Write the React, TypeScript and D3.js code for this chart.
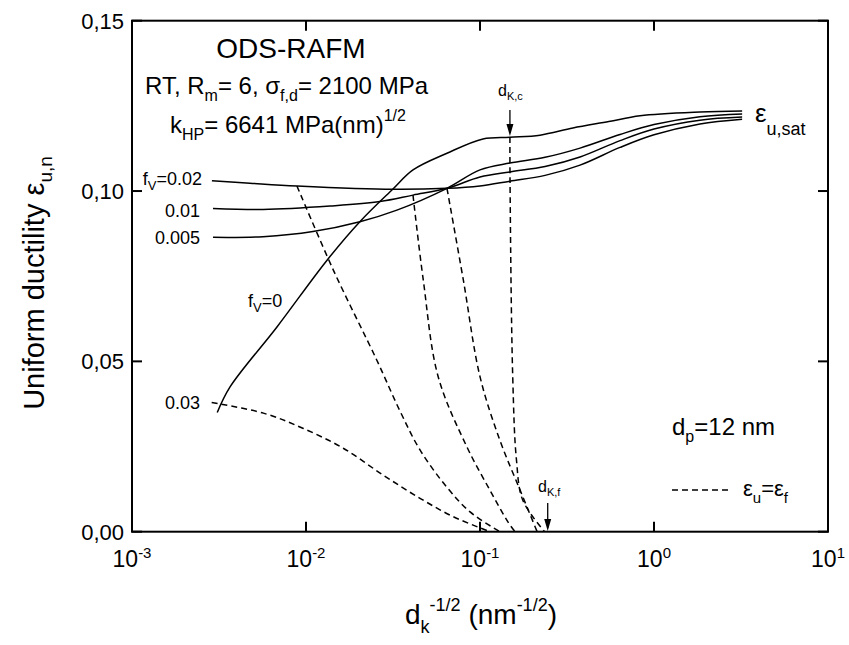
import React from "react";
import * as d3 from "d3";

const W = 849;
const H = 645;
const FONT = "Liberation Sans, Arial, Helvetica, sans-serif";

// axis ticks
const xTicks = [0.001, 0.01, 0.1, 1, 10];
const xTickExp = ["-3", "-2", "-1", "0", "1"];
const yTicks = [0, 0.05, 0.1, 0.15];
const yTickLabels = ["0,00", "0,05", "0,10", "0,15"];

// solid curves: [d_k^-1/2, eps_u,n]
const solidFv0 = [
  [0.00309, 0.035], [0.00366, 0.0425], [0.00681, 0.0601], [0.01321, 0.0797],
  [0.0204, 0.091], [0.0316, 0.1006], [0.0412, 0.1062], [0.0646, 0.1111],
  [0.104, 0.1153], [0.1486, 0.1158], [0.2213, 0.1164], [0.342, 0.1185],
  [0.55, 0.1204], [0.832, 0.1221], [1.837, 0.1232], [3.21, 0.1235],
];
const solidFv0005 = [
  [0.00292, 0.0864], [0.00566, 0.0866], [0.01096, 0.0881], [0.0204, 0.091],
  [0.0333, 0.0944], [0.0646, 0.1008], [0.1, 0.1062], [0.1486, 0.1082],
  [0.2366, 0.1099], [0.3758, 0.1126], [0.638, 0.1166], [1.0, 0.1195],
  [1.837, 0.1218], [3.21, 0.1226],
];
const solidFv001 = [
  [0.00292, 0.0949], [0.00566, 0.0946], [0.01374, 0.0956], [0.0266, 0.0969],
  [0.0412, 0.0988], [0.0646, 0.1008], [0.1, 0.1041], [0.1486, 0.1056],
  [0.2366, 0.1072], [0.3758, 0.11], [0.638, 0.1148], [1.0, 0.1182],
  [1.837, 0.1208], [3.21, 0.1217],
];
const solidFv002 = [
  [0.00288, 0.103], [0.00476, 0.1023], [0.00887, 0.1015], [0.0316, 0.1005],
  [0.0646, 0.1008], [0.1, 0.1015], [0.1486, 0.1029], [0.2366, 0.1046],
  [0.3758, 0.1076], [0.638, 0.1128], [1.0, 0.1165], [1.837, 0.1197],
  [3.21, 0.1211],
];

// dashed curves eps_u = eps_f
const dashFv003 = [
  [0.00287, 0.0379], [0.00569, 0.0348], [0.00966, 0.0303], [0.01637, 0.0245],
  [0.0278, 0.0166], [0.0452, 0.0098], [0.0703, 0.0044], [0.114, 0],
];
const dashFv002 = [
  [0.00887, 0.1015], [0.01436, 0.0768], [0.0255, 0.0504], [0.0347, 0.0354],
  [0.0452, 0.024], [0.0644, 0.0131], [0.0877, 0.0058], [0.13, 0],
];
const dashFv001 = [
  [0.0412, 0.0988], [0.0472, 0.0739], [0.0575, 0.0455], [0.0839, 0.025],
  [0.114, 0.0122], [0.145, 0.0028], [0.159, 0],
];
const dashFv0005 = [
  [0.0646, 0.1008], [0.0802, 0.0739], [0.1, 0.0455], [0.13, 0.0269],
  [0.17, 0.0122], [0.213, 0],
];
const dashFv0 = [
  [0.1486, 0.1158], [0.1488, 0.1032], [0.1542, 0.0455], [0.162, 0.0211],
  [0.176, 0.0093], [0.235, 0],
];

const solidSeries = [solidFv0, solidFv0005, solidFv001, solidFv002];
const dashedSeries = [dashFv003, dashFv002, dashFv001, dashFv0005, dashFv0];

export default function App() {
  const x = d3.scaleLog().domain([1e-3, 10]).range([132, 828]);
  const y = d3.scaleLinear().domain([0, 0.15]).range([531.7, 20.7]);
  const line = d3
    .line<number[]>()
    .x((d) => x(d[0]))
    .y((d) => y(d[1]))
    .curve(d3.curveCatmullRom.alpha(0.5));

  const [x0, x1] = x.range();
  const [y0, y1] = y.range();
  const tl = 10;

  return (
    <div style={{ position: "fixed", left: 0, top: 0 }}>
      <svg width={W} height={H} style={{ display: "block", background: "white" }} fontFamily={FONT}>
        {/* frame */}
        <rect x={x0} y={y1} width={x1 - x0} height={y0 - y1} fill="none" stroke="black" strokeWidth={2} />
        {xTicks.map((t, i) => (
          <g key={"xt" + i}>
            <line x1={x(t)} x2={x(t)} y1={y0} y2={y0 - tl} stroke="black" strokeWidth={2} />
            <line x1={x(t)} x2={x(t)} y1={y1} y2={y1 + tl} stroke="black" strokeWidth={2} />
            <text x={x(t)} y={567} textAnchor="middle" fontSize={23}>
              10<tspan dy={-9} fontSize={15}>{xTickExp[i]}</tspan>
            </text>
          </g>
        ))}
        {yTicks.map((t, i) => (
          <g key={"yt" + i}>
            <line x1={x0} x2={x0 + tl} y1={y(t)} y2={y(t)} stroke="black" strokeWidth={2} />
            <line x1={x1} x2={x1 - tl} y1={y(t)} y2={y(t)} stroke="black" strokeWidth={2} />
            <text x={124} y={y(t) + 8} textAnchor="end" fontSize={22}>
              {yTickLabels[i]}
            </text>
          </g>
        ))}

        {/* curves */}
        {solidSeries.map((s, i) => (
          <path key={"s" + i} d={line(s) || ""} fill="none" stroke="black" strokeWidth={1.5} />
        ))}
        {dashedSeries.map((s, i) => (
          <path key={"d" + i} d={line(s) || ""} fill="none" stroke="black" strokeWidth={1.5} strokeDasharray="6,4" />
        ))}

        {/* axis titles */}
        <text transform="translate(44,283) rotate(-90)" textAnchor="middle" fontSize={29}>
          Uniform ductility ε<tspan dy={8} fontSize={19}>u,n</tspan>
        </text>
        <text x={481} y={624} textAnchor="middle" fontSize={28}>
          d<tspan dy={9} fontSize={18}>k</tspan>
          <tspan dy={-22} fontSize={18}>-1/2</tspan>
          <tspan dy={13} fontSize={28}> (nm</tspan>
          <tspan dy={-13} fontSize={18}>-1/2</tspan>
          <tspan dy={13} fontSize={28}>)</tspan>
        </text>

        {/* header annotations */}
        <text x={291} y={58} textAnchor="middle" fontSize={28}>ODS-RAFM</text>
        <text x={145} y={94} fontSize={24}>
          RT, R<tspan dy={7} fontSize={16}>m</tspan>
          <tspan dy={-7}>= 6, σ</tspan>
          <tspan dy={7} fontSize={16}>f,d</tspan>
          <tspan dy={-7}>= 2100 MPa</tspan>
        </text>
        <text x={170} y={133} fontSize={24}>
          k<tspan dy={7} fontSize={16}>HP</tspan>
          <tspan dy={-7}>= 6641 MPa(nm)</tspan>
          <tspan dy={-12} fontSize={16}>1/2</tspan>
        </text>

        {/* curve labels */}
        <text x={202} y={185} textAnchor="end" fontSize={18}>
          f<tspan dy={5} fontSize={13}>V</tspan>
          <tspan dy={-5}>=0.02</tspan>
        </text>
        <text x={200} y={217} textAnchor="end" fontSize={18}>0.01</text>
        <text x={200} y={244} textAnchor="end" fontSize={18}>0.005</text>
        <text x={200} y={409} textAnchor="end" fontSize={18}>0.03</text>
        <text x={248} y={307} fontSize={18}>
          f<tspan dy={5} fontSize={13}>V</tspan>
          <tspan dy={-5}>=0</tspan>
        </text>

        {/* d_K,c marker */}
        <text x={498} y={96} fontSize={16}>
          d<tspan dy={4} fontSize={11}>K,c</tspan>
        </text>
        <line x1={x(0.1486)} x2={x(0.1486)} y1={110} y2={133} stroke="black" strokeWidth={1.3} />
        <path d={`M${x(0.1486) - 3.5},${124} L${x(0.1486)},${136} L${x(0.1486) + 3.5},${124} Z`} fill="black" />

        {/* d_K,f marker */}
        <text x={538} y={492} fontSize={16}>
          d<tspan dy={4} fontSize={11}>K,f</tspan>
        </text>
        <line x1={x(0.245)} x2={x(0.245)} y1={503} y2={528} stroke="black" strokeWidth={1.3} />
        <path d={`M${x(0.245) - 3.5},${519} L${x(0.245)},${531} L${x(0.245) + 3.5},${519} Z`} fill="black" />

        {/* eps_u,sat */}
        <text x={755} y={122} fontSize={26}>
          ε<tspan dy={13} fontSize={18}>u,sat</tspan>
        </text>

        {/* d_p and legend */}
        <text x={672} y={435} fontSize={24}>
          d<tspan dy={7} fontSize={16}>p</tspan>
          <tspan dy={-7}>=12 nm</tspan>
        </text>
        <line x1={672} x2={730} y1={490} y2={490} stroke="black" strokeWidth={1.5} strokeDasharray="6,4" />
        <text x={743} y={496} fontSize={22}>
          ε<tspan dy={7} fontSize={15}>u</tspan>
          <tspan dy={-7}>=ε</tspan>
          <tspan dy={7} fontSize={15}>f</tspan>
        </text>
      </svg>
    </div>
  );
}
